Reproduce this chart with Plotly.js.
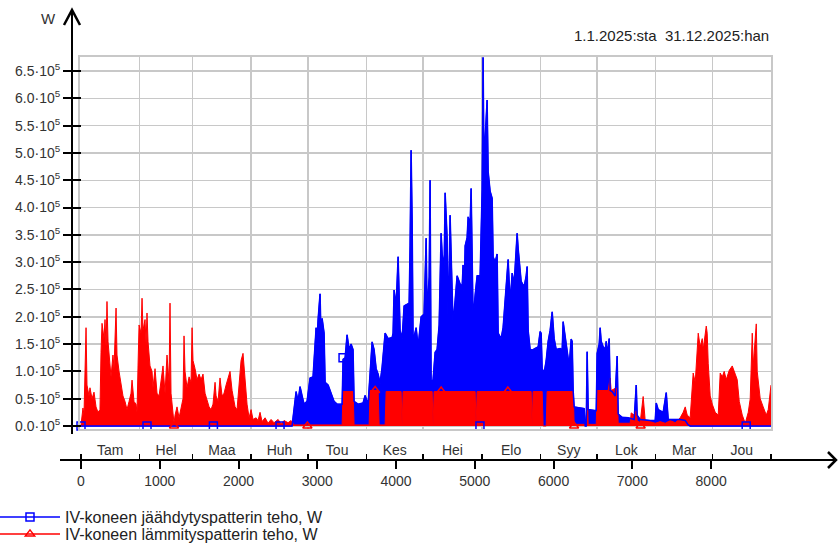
<!DOCTYPE html>
<html><head><meta charset="utf-8">
<script src="https://cdn.plot.ly/plotly-3.0.1.min.js"></script>
<style>html,body{margin:0;padding:0;background:#fff}#chart{width:838px;height:545px}</style>
</head><body><div id="chart"></div>
<script>
// ---- data (hour of year, W) ----
const coolHours = [0,2680,2692,2731,2756,2781,2807,2832,2870,2908,
2946,2985,2997,3010,3035,3048,3061,3086,3099,3137,
3175,3213,3251,3315,3327,3353,3378,3404,3429,3454,
3467,3518,3581,3607,3645,3696,3721,3747,3772,3797,
3823,3861,3899,3950,3962,3975,4001,4026,4051,4077,
4102,4140,4166,4178,4191,4204,4216,4255,4280,4318,
4356,4382,4394,4420,4432,4445,4470,4496,4521,4547,
4572,4585,4610,4623,4648,4661,4686,4699,4724,4750,
4775,4813,4839,4851,4864,4877,4902,4915,4940,4953,
4966,4978,5004,5029,5067,5093,5105,5118,5131,5156,
5169,5194,5220,5232,5258,5283,5296,5334,5359,5385,
5410,5423,5448,5474,5499,5525,5537,5550,5588,5626,
5652,5664,5677,5702,5728,5766,5804,5829,5842,5855,
5880,5906,5931,5956,5982,6007,6033,6083,6109,6121,
6147,6172,6198,6223,6236,6248,6261,6388,6401,6414,
6426,6439,6541,6553,6579,6591,6604,6629,6655,6668,
6680,6706,6718,6744,6782,6807,6820,6871,6947,7023,
7049,7061,7099,7226,7290,7303,7328,7353,7391,7430,
7455,7607,7671,7709,7734,8760];
const coolW = [0,0,15000,63000,45000,72000,55000,40000,45000,88000,
90000,180000,155000,195000,242000,160000,197000,170000,80000,75000,
60000,45000,40000,40000,122000,125000,167000,140000,150000,140000,
45000,40000,42000,56000,40000,154000,140000,105000,95000,78000,
108000,170000,160000,162000,170000,249000,220000,310000,175000,160000,
220000,223000,225000,330000,505000,377000,155000,180000,145000,200000,
205000,344000,205000,273000,450000,80000,85000,135000,140000,185000,
353000,315000,290000,427000,345000,175000,386000,315000,185000,230000,
275000,260000,255000,295000,235000,330000,345000,383000,370000,435000,
330000,195000,240000,275000,275000,433000,675000,433000,527000,597000,
466000,430000,417000,310000,300000,315000,170000,160000,180000,230000,
270000,305000,225000,280000,260000,320000,353000,325000,265000,255000,
275000,292000,175000,140000,139000,142000,145000,173000,170000,105000,
97000,120000,155000,175000,209000,160000,140000,142000,140000,191000,
165000,145000,110000,159000,155000,66000,35000,32000,0,0,
136000,30000,28000,133000,150000,180000,155000,145000,140000,155000,
130000,160000,65000,63000,55000,128000,22000,16000,15000,12000,
75000,20000,12000,10000,10000,42000,30000,28000,25000,61000,
12000,12000,10000,2000,0,0];

const heatHours = [0,13,25,38,51,64,76,102,114,140,
165,191,216,241,254,267,292,305,318,330,
343,368,381,406,419,445,457,483,508,533,
559,584,610,635,648,673,699,711,724,737,
762,775,787,813,826,838,851,876,902,914,
940,965,991,1016,1041,1067,1092,1118,1130,1143,
1168,1181,1194,1219,1245,1270,1295,1308,1321,1346,
1372,1397,1410,1422,1448,1473,1499,1524,1549,1575,
1600,1626,1651,1676,1702,1715,1740,1765,1791,1816,
1842,1867,1892,1918,1956,1981,2007,2032,2057,2083,
2108,2134,2159,2184,2223,2248,2273,2299,2337,2375,
2413,2451,2502,2540,2578,2629,2667,2705,3315,3327,
3454,3467,3658,3670,3772,3785,3861,3874,4064,4077,
4089,4458,4470,4483,5004,5016,5029,5715,5728,5740,
5855,5867,5906,5918,6248,6261,6414,6426,6439,6541,
6553,6693,6718,6731,6795,6807,6820,6972,6985,7023,
7049,7061,7099,7137,7163,7226,7290,7353,7417,7480,
7544,7607,7645,7671,7696,7734,7772,7798,7836,7861,
7887,7899,7938,7950,7963,7988,8014,8052,8090,8115,
8141,8166,8192,8230,8268,8306,8331,8357,8395,8433,
8471,8496,8522,8534,8573,8585,8623,8661,8700,8725,
8750,8760];
const heatW = [2000,25000,33000,20000,108000,180000,75000,55000,70000,50000,
62000,35000,25000,30000,135000,188000,160000,195000,145000,228000,
155000,120000,90000,130000,105000,216000,130000,100000,75000,55000,
45000,30000,45000,60000,84000,45000,40000,25000,110000,185000,
170000,234000,175000,195000,150000,207000,155000,110000,100000,70000,
105000,60000,55000,85000,110000,60000,130000,80000,225000,60000,
30000,5000,20000,35000,15000,30000,50000,165000,100000,70000,
90000,80000,180000,120000,105000,85000,95000,85000,95000,60000,
45000,35000,30000,40000,80000,55000,45000,88000,55000,60000,
75000,90000,100000,65000,35000,30000,75000,120000,133000,85000,
40000,15000,30000,12000,15000,10000,25000,8000,15000,5000,
12000,6000,12000,4000,10000,6000,10000,2000,2000,63000,
63000,2000,2000,65000,65000,2000,2000,63000,63000,0,
63000,63000,0,63000,63000,0,63000,63000,0,63000,
63000,0,0,63000,63000,3000,3000,63000,3000,3000,
65000,65000,88000,65000,70000,65000,5000,5000,24000,20000,
28000,10000,6000,54000,10000,8000,5000,8000,5000,10000,
6000,15000,25000,35000,20000,15000,97000,80000,170000,145000,
160000,140000,183000,170000,115000,55000,40000,25000,20000,97000,
90000,100000,85000,102000,110000,95000,85000,45000,20000,5000,
25000,50000,170000,110000,187000,100000,50000,35000,20000,30000,
60000,75000];

const coolMarkerHours = [0, 838, 1681, 2527, 3327, 5065, 8445];
const coolMarkerW     = [0, 0, 0, 0, 125000, 0, 0];
const heatMarkerHours = [1181, 2874, 3734, 4572, 5419, 6260, 7105];
const heatMarkerW     = [0, 0, 65000, 64000, 64000, 0, 0];

const seriesNames = ['IV-koneen jäähdytyspatterin teho, W', 'IV-koneen lämmityspatterin teho, W'];
const monthNames = ['Tam','Hel','Maa','Huh','Tou','Kes','Hei','Elo','Syy','Lok','Mar','Jou'];
const monthStartHours = [0,744,1416,2160,2880,3624,4344,5088,5832,6552,7296,8016,8760];
const xTickVals = [0,1000,2000,3000,4000,5000,6000,7000,8000];
const yTickVals = [0,50000,100000,150000,200000,250000,300000,350000,400000,450000,500000,550000,600000,650000];
const yTickMantissa = ['0.0','0.5','1.0','1.5','2.0','2.5','3.0','3.5','4.0','4.5','5.0','5.5','6.0','6.5'];
const dateText = '1.1.2025:sta\u00A0\u00A031.12.2025:han';

// ---- layout helpers ----
const W = 838, H = 545;
const fx = p => p / W, fy = p => 1 - p / H;
const FONT = '"Liberation Sans", Arial, sans-serif';
const BLUE = '#0000ff', RED = '#ff0000', GRID = '#c8c8c8';
const XR = [-12.7, 8760], YR = [-4600, 675800];
const monthMid = monthNames.map((m, i) => (monthStartHours[i] + monthStartHours[i + 1]) / 2);
const path = pts => 'M' + pts.map(p => fx(p[0]) + ',' + fy(p[1])).join(' L');

const traces = [
  {x: coolHours, y: coolW, type: 'scatter', mode: 'lines', fill: 'tozeroy', fillcolor: BLUE,
   line: {color: BLUE, width: 1}, showlegend: false, hoverinfo: 'skip'},
  {x: heatHours, y: heatW, type: 'scatter', mode: 'lines', fill: 'tozeroy', fillcolor: RED,
   line: {color: RED, width: 1}, showlegend: false, hoverinfo: 'skip'},
  {x: coolHours, y: coolW, type: 'scatter', mode: 'lines',
   line: {color: BLUE, width: 1.5}, showlegend: false, hoverinfo: 'skip'},
  {x: coolMarkerHours, y: coolMarkerW, type: 'scatter', mode: 'markers', cliponaxis: false,
   marker: {symbol: 'square-open', size: 8, color: BLUE, line: {width: 1.5, color: BLUE}}, showlegend: false, hoverinfo: 'skip'},
  {x: heatMarkerHours, y: heatMarkerW, type: 'scatter', mode: 'markers', cliponaxis: false,
   marker: {symbol: 'triangle-up-open', size: 8, color: RED, line: {width: 1.5, color: RED}}, showlegend: false, hoverinfo: 'skip'},
  {x: [null], y: [null], type: 'scatter', mode: 'lines+markers', name: seriesNames[0], legend: 'legend',
   line: {color: BLUE, width: 1.5}, marker: {symbol: 'square-open', size: 8, color: BLUE, line: {width: 1.5, color: BLUE}}},
  {x: [null], y: [null], type: 'scatter', mode: 'lines+markers', name: seriesNames[1], legend: 'legend2',
   line: {color: RED, width: 1.5}, marker: {symbol: 'triangle-up-open', size: 8, color: RED, line: {width: 1.5, color: RED}}},
  {x: [null], y: [null], xaxis: 'x2', yaxis: 'y2', showlegend: false, hoverinfo: 'skip'},
  {x: [null], y: [null], xaxis: 'x3', yaxis: 'y3', showlegend: false, hoverinfo: 'skip'},
  {x: [null], y: [null], xaxis: 'x4', yaxis: 'y2', showlegend: false, hoverinfo: 'skip'}
];

const legendBase = {x: fx(-5), xanchor: 'left', yanchor: 'middle', font: {size: 16, color: '#222', family: FONT},
  itemwidth: 60, bgcolor: 'rgba(0,0,0,0)', borderwidth: 0};

const layout = {
  width: W, height: H, margin: {l: 0, r: 0, t: 0, b: 0, autoexpand: false},
  paper_bgcolor: '#fff', plot_bgcolor: '#fff',
  font: {family: FONT, size: 14, color: '#333'},
  legend: Object.assign({}, legendBase, {y: fy(517)}),
  legend2: Object.assign({}, legendBase, {y: fy(534)}),
  xaxis: {domain: [fx(80), fx(771)], range: XR, tickvals: monthStartHours, showticklabels: false, ticks: '',
    showgrid: true, gridcolor: GRID, gridwidth: 1.5, showline: true, mirror: true, linecolor: GRID, linewidth: 2,
    zeroline: false, fixedrange: true, automargin: false},
  yaxis: {domain: [fy(428.5), fy(57)], range: YR, tickvals: yTickVals, showticklabels: false, ticks: '',
    showgrid: true, gridcolor: GRID, gridwidth: 1.5, showline: true, mirror: true, linecolor: GRID, linewidth: 2,
    zeroline: false, fixedrange: true, automargin: false},
  yaxis2: {overlaying: 'y', anchor: 'free', position: fx(72), side: 'left', range: YR,
    tickvals: yTickVals, ticktext: yTickMantissa.map(m => m + '\u00B710<sup>5</sup>'),
    ticks: 'outside', ticklen: 9, tickwidth: 2, tickcolor: '#000', showgrid: false, zeroline: false, showline: false,
    tickfont: {size: 14, color: '#333'}, fixedrange: true, automargin: false},
  yaxis3: {overlaying: 'y', anchor: 'free', position: fx(72), side: 'left', range: YR, tickvals: yTickVals,
    ticks: 'inside', ticklen: 8, tickwidth: 2, tickcolor: '#000', showticklabels: false, showgrid: false,
    zeroline: false, showline: false, fixedrange: true, automargin: false},
  xaxis2: {overlaying: 'x', anchor: 'free', position: fy(460), side: 'bottom', range: XR,
    tickvals: xTickVals, ticktext: xTickVals.map(String), ticks: 'outside', ticklen: 8, tickwidth: 2, tickcolor: '#000',
    showgrid: false, zeroline: false, showline: false, tickfont: {size: 14, color: '#333'}, fixedrange: true, automargin: false},
  xaxis3: {overlaying: 'x', anchor: 'free', position: fy(460), side: 'top', range: XR,
    tickvals: monthStartHours, ticks: 'outside', ticklen: 6, tickwidth: 1.5, tickcolor: '#000',
    showticklabels: false, showgrid: false, zeroline: false, showline: false, fixedrange: true, automargin: false},
  xaxis4: {overlaying: 'x', anchor: 'free', position: fy(460), side: 'top', range: XR,
    tickvals: monthMid, ticktext: monthNames, ticks: '', ticklabelstandoff: 2,
    showgrid: false, zeroline: false, showline: false, tickfont: {size: 14, color: '#333'}, fixedrange: true, automargin: false},
  shapes: [
    {type: 'line', xref: 'paper', yref: 'paper', x0: fx(72), x1: fx(72), y0: fy(434), y1: fy(10), line: {color: '#000', width: 2}},
    {type: 'path', xref: 'paper', yref: 'paper', path: path([[64, 25], [72, 10], [80, 25]]), line: {color: '#000', width: 2.5}},
    {type: 'line', xref: 'paper', yref: 'paper', x0: fx(60), x1: fx(836), y0: fy(460), y1: fy(460), line: {color: '#000', width: 2}},
    {type: 'path', xref: 'paper', yref: 'paper', path: path([[828, 452], [836, 460], [828, 468]]), line: {color: '#000', width: 2.5}}
  ],
  annotations: [
    {xref: 'paper', yref: 'paper', x: fx(48), y: fy(18), text: 'W', showarrow: false, xanchor: 'center', yanchor: 'middle',
     font: {size: 15, color: '#333'}},
    {xref: 'paper', yref: 'paper', x: fx(771), y: fy(35), text: dateText, showarrow: false, xanchor: 'right', yanchor: 'middle',
     font: {size: 15, color: '#222'}}
  ]
};

Plotly.newPlot('chart', traces, layout, {staticPlot: true, displayModeBar: false});
</script></body></html>
